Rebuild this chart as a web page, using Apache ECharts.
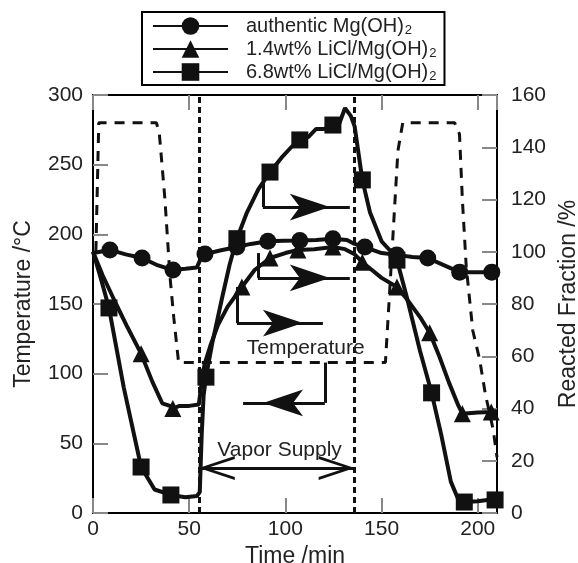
<!DOCTYPE html>
<html>
<head>
<meta charset="utf-8">
<script src="https://cdn.jsdelivr.net/npm/echarts@6/dist/echarts.min.js"></script>
<style>
  html, body { margin: 0; padding: 0; background: #fff; }
  #chart { width: 578px; height: 563px; }
</style>
</head>
<body>
<div id="chart"></div>
<script>
const FONT = 'Liberation Sans'

// temperature program, [time min, °C]
const tempLine = [[1.5, 188], [3, 280], [33, 280], [34.5, 272], [37.4, 225], [40, 170], [42, 140],
  [44.5, 108], [152, 108], [153, 131], [156, 201], [158.5, 260], [161, 280], [188, 280],
  [190.5, 272], [192, 225], [194, 177], [197.4, 131], [201, 110], [204, 85], [208, 60], [210, 40]]

// reacted fraction, [time min, %] – line path (no marker) and marker points
const authLine = [[0, 99.5], [17, 99], [33, 95], [48, 93.5], [54, 94], [55.5, 96.5], [66, 100.5],
  [82, 103], [99, 104.2], [116, 104.5], [132, 104.5], [136, 103], [150, 99.5], [166, 98],
  [182, 95], [198, 92.2]]
const authMarks = [[8.8, 100.7], [25.5, 97.6], [41.6, 93], [58.2, 99.1], [74.8, 101.8], [90.9, 104],
  [107.5, 104.3], [124.7, 105], [141.3, 101.8], [157.9, 98.8], [174, 97.6], [190.6, 92.2], [207.3, 92.2]]

const li14Line = [[0, 100], [5, 91], [12, 80], [18, 71], [31, 50], [36, 42], [40, 41], [45, 41],
  [50, 41], [55, 41.5], [56.5, 50], [58, 57], [61, 64], [65, 72], [70, 79], [84, 93], [100, 99.5],
  [115, 101], [131, 101], [136, 99], [145, 93], [150, 90], [163, 82], [170, 75], [180, 60],
  [185, 50], [190, 41], [200, 38.5], [210, 39]]
const li14Marks = [[25, 61], [41.5, 40], [77.4, 86.5], [92, 97.6], [106.5, 100.7], [124.7, 101.8],
  [140, 96], [158, 86.5], [175, 69], [192, 38], [207, 38.7]]

const li68Line = [[0, 100], [4, 90], [16, 48], [32, 9], [48, 6], [54, 6.5], [55.5, 8], [56.5, 30],
  [57.5, 45], [62, 65], [67, 82], [71, 95], [80, 115], [86, 124], [98, 136], [103, 140], [112, 144],
  [116, 147], [120, 147], [128, 149], [131, 155], [134, 152], [136, 148], [144, 115], [150, 104],
  [155, 100], [163, 83], [170, 62], [181, 30], [186, 12], [190, 5], [200, 4.5], [205, 5]]
const li68Marks = [[8.3, 78.5], [25, 17.6], [40.5, 6.9], [58.7, 52], [74.8, 105], [92, 130.5],
  [107.5, 142.8], [124.7, 148.5], [140, 127.5], [158, 96.8], [176, 46], [193, 4.2], [209, 5]]

const sampleNames = ['authentic Mg(OH)2', '1.4wt% LiCl/Mg(OH)2', '6.8wt% LiCl/Mg(OH)2']
const vaporStart = 55
const vaporEnd = 136

function buildData(line, marks) {
  const pts = line.map(p => ({ value: p, symbol: 'none' }))
    .concat(marks.map(p => ({ value: p })))
  return pts.sort((a, b) => a.value[0] - b.value[0])
}

const chevron = 'path://M0,30 L10,0 L20,30 L17.5,30 L10,7 L2.5,30 Z'
const black = '#111'
const tipEnd = (coord, symbol) => ({ coord, symbol: symbol || 'arrow', symbolOffset: [0, '50%'] })
const plain = coord => ({ coord, symbol: 'none' })
const dotted = { type: [6, 4], width: 3, color: black }

const chart = echarts.init(document.getElementById('chart'))

const axisCommon = {
  type: 'value',
  splitLine: { show: false },
  axisLine: { show: true, onZero: false, lineStyle: { color: '#000', width: 2 } },
  axisTick: { show: true, inside: true, length: 15, lineStyle: { color: '#888', width: 2 } },
  axisLabel: { fontSize: 21, color: '#222', fontFamily: FONT },
  nameTextStyle: { fontSize: 23, color: '#222', fontFamily: FONT }
}

function sampleSeries(i, symbol, line, marks, extra) {
  return Object.assign({
    name: sampleNames[i],
    type: 'line',
    xAxisIndex: 0,
    yAxisIndex: 1,
    symbol: symbol,
    symbolSize: 17,
    showAllSymbol: true,
    animation: false,
    lineStyle: { color: black, width: 4 },
    itemStyle: { color: black },
    data: buildData(line, marks),
    z: 3 + i
  }, extra || {})
}

chart.setOption({
  animation: false,
  grid: { left: 93, right: 81, top: 95, bottom: 50, containLabel: false, outerBoundsMode: 'none' },
  legend: {
    data: sampleNames,
    orient: 'vertical',
    left: 142,
    top: 12,
    itemWidth: 75,
    itemHeight: 22,
    itemGap: 2,
    padding: [4, 8, 2, 10],
    borderColor: '#000',
    borderWidth: 2,
    backgroundColor: '#fff',
    selectedMode: false,
    formatter: n => n.slice(0, -1) + '{sub|2}',
    textStyle: {
      fontSize: 20, color: '#222', fontFamily: FONT, padding: [0, 0, 0, 13],
      rich: { sub: { fontSize: 13, fontFamily: FONT, color: '#222', padding: [9, 0, 0, 1] } }
    }
  },
  xAxis: [
    Object.assign({}, axisCommon, {
      min: 0, max: 210, interval: 50, position: 'bottom',
      axisLabel: Object.assign({}, axisCommon.axisLabel, { margin: 6, showMaxLabel: false }),
      name: 'Time /min', nameLocation: 'middle', nameGap: 27
    }),
    Object.assign({}, axisCommon, {
      min: 0, max: 210, interval: 50, position: 'top',
      axisLabel: { show: false }
    })
  ],
  yAxis: [
    Object.assign({}, axisCommon, {
      min: 0, max: 300, interval: 50, position: 'left',
      axisLabel: Object.assign({}, axisCommon.axisLabel, { margin: 10 }),
      name: 'Temperature /°C', nameLocation: 'middle', nameRotate: 90, nameGap: 58
    }),
    Object.assign({}, axisCommon, {
      min: 0, max: 160, interval: 20, position: 'right',
      axisLabel: Object.assign({}, axisCommon.axisLabel, { margin: 14 }),
      name: 'Reacted Fraction /%', nameLocation: 'middle', nameRotate: 90, nameGap: 57
    })
  ],
  series: [
    {
      name: 'Temperature',
      type: 'line',
      xAxisIndex: 0,
      yAxisIndex: 0,
      symbol: 'none',
      lineStyle: { color: black, width: 3, type: [10, 8] },
      data: tempLine,
      z: 2,
      markLine: {
        silent: true,
        symbol: ['none', 'none'],
        symbolSize: [20, 40],
        label: { show: false },
        lineStyle: { color: black, width: 3, type: 'solid' },
        data: [
          { xAxis: vaporStart, lineStyle: dotted },
          { xAxis: vaporEnd, lineStyle: dotted },
          // temperature pointer to left axis
          [plain([120.5, 108]), plain([120.5, 79])],
          [plain([120.5, 79]), tipEnd([78, 79])],
          // vapor supply span
          [{ coord: [vaporStart, 32.3], symbol: chevron, symbolSize: [24, 36], symbolOffset: [0, '50%'] },
            { coord: [vaporEnd, 32.3], symbol: chevron, symbolSize: [24, 36], symbolOffset: [0, '50%'] }]
        ]
      },
      markPoint: {
        silent: true,
        symbol: 'rect',
        symbolSize: 0,
        itemStyle: { color: 'transparent' },
        label: { show: true, position: 'inside', formatter: '{b}', fontSize: 21, color: '#222', fontFamily: FONT },
        data: [
          { name: 'Temperature', coord: [110.6, 118.4] },
          { name: 'Vapor Supply', coord: [97, 45] }
        ]
      }
    },
    sampleSeries(0, 'circle', authLine, authMarks),
    sampleSeries(1, 'triangle', li14Line, li14Marks),
    sampleSeries(2, 'rect', li68Line, li68Marks, {
      markLine: {
        silent: true,
        symbol: ['none', 'none'],
        symbolSize: [20, 40],
        label: { show: false },
        lineStyle: { color: black, width: 3, type: 'solid' },
        data: [
          [plain([88.3, 127.5]), plain([88.3, 117.1])],
          [plain([88.3, 117.1]), tipEnd([133.5, 117.1])],
          [plain([85.7, 99.5]), plain([85.7, 90])],
          [plain([85.7, 90]), tipEnd([133.5, 90])],
          [plain([74.8, 86.5]), plain([74.8, 72.7])],
          [plain([74.8, 72.7]), tipEnd([119.5, 72.7])]
        ]
      }
    })
  ]
})
</script>
</body>
</html>
